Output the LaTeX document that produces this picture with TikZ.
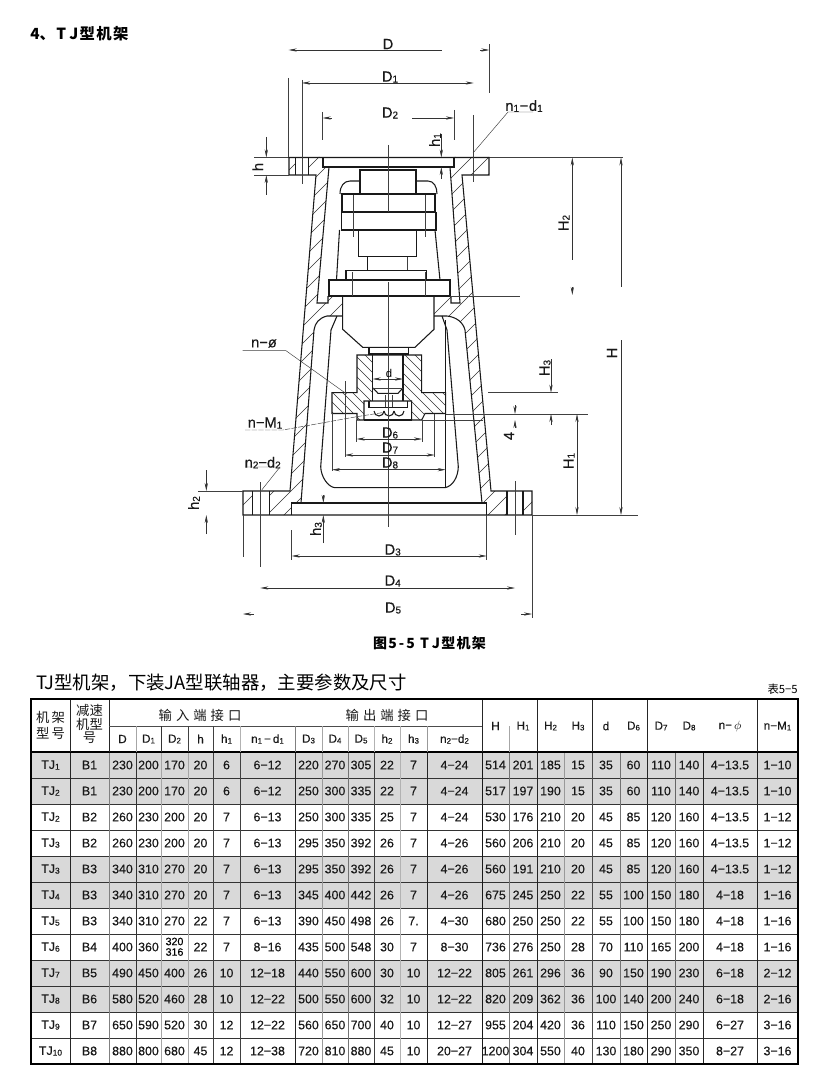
\documentclass[tikz,border=0pt]{standalone}
\usepackage{fontspec}
\setmainfont{Liberation Sans}
\newfontfamily\cjk{Noto Sans CJK SC}
\newfontfamily\numf[FakeBold=0.25]{Liberation Sans}
\usetikzlibrary{arrows.meta}
\newcommand\lo[1]{\raisebox{-.12ex}{\scalebox{.68}{#1}}}
\newcommand\hatchF[2][15]{\begin{scope}\clip #2;\foreach \k in {0,#1,...,1200}{\draw[hatchln] (\k,0) -- ++(-1000,1000);}\end{scope}}
\newcommand\hatchB[2][10]{\begin{scope}\clip #2;\foreach \k in {0,#1,...,1800}{\draw[hatchln] (\k-900,0) -- ++(1000,1000);}\end{scope}}
\def\cx{{50.5,89.5,122.5,148.5,174.5,200.5,226.5,267.5,308.5,335,361,387,413.5,454.5,495.5,523,550.5,578,606,633.5,661,689,730,777.5}}
\newcommand\tjrow[2]{\foreach \t [count=\i from 0] in {#2}{\pgfmathsetmacro\xx{\cx[\i]}\node[cell] (r#1c\i) at (\xx,#1) {\t};}}
\tikzset{
  outl/.style={draw=black!90,line width=.8pt,line join=miter},
  thinl/.style={draw=black!75,line width=.35pt},
  dimln/.style={draw=black!80,line width=.4pt},
  hatchln/.style={draw=black!80,line width=.4pt},
  lbl/.style={font=\fontsize{11}{12}\selectfont\numf,inner sep=0pt,text=black!90},
  cell/.style={font=\fontsize{9.3}{10}\selectfont\numf,inner sep=0pt,text=black!90},
  hcell/.style={font=\fontsize{8.8}{9}\selectfont\numf,inner sep=0pt,text=black!90},
  cn/.style={font=\fontsize{10}{11}\selectfont\cjk,inner sep=0pt,text=black!90},
  >={Stealth[length=6pt,width=2.4pt]}
}
\begin{document}
\begin{tikzpicture}[x=.75pt,y=-.75pt]
\useasboundingbox (0,0) rectangle (830,1091);
\fill[white] (0,0) rectangle (830,1091);

% ---------- titles
\node[anchor=west,inner sep=0pt,font=\fontsize{11.5}{13}\selectfont\cjk\bfseries] (maintitle) at (30,34) {4、\hspace{1pt}T\hspace{2.5pt}J\hspace{1pt}型\hspace{1pt}机\hspace{1pt}架};
\node[inner sep=0pt,font=\fontsize{10.5}{12}\selectfont\cjk\bfseries] (figcap) at (429.5,643) {图\hspace{1pt}5\hspace{1.5pt}-\hspace{1.5pt}5\hspace{4pt}T\hspace{2pt}J\hspace{1pt}型\hspace{1pt}机\hspace{1pt}架};
\node[anchor=west,inner sep=0pt,font=\fontsize{13.8}{15}\selectfont\cjk] (tabtitle) at (36,683) {TJ型机架，下装JA型联轴器，主要参数及尺寸};
\node[anchor=east,inner sep=0pt,font=\fontsize{8.5}{9}\selectfont\cjk] (tabno) at (798,689) {表5−5};

% ---------- hatching
\def\rightwall{(489,157) -- (454,157) -- (454,167) -- (450,167) -- (460,303) -- (451,303) -- (451,296) -- (434,296) -- (434,316) -- (447,316) .. controls (456,317) and (463,322) .. (465,330) -- (482,503) -- (486.7,503) -- (486.7,515) -- (507,515) -- (507,491) -- (491,491) -- (462,175) -- (489,175) -- cycle}
\hatchF[17]{(289,157) -- (295.7,157) -- (295.7,175) -- (289,175) -- cycle}
\hatchF[17]{(308.3,157) -- (323,157) -- (323,167) -- (329,167) -- (317,303) -- (328,303) -- (328,296) -- (342,296) -- (342,316) -- (327,316) .. controls (319,318) and (315,323) .. (314,330) -- (301,503) -- (291.7,503) -- (291.7,515) -- (269.3,515) -- (269.3,491) -- (290,491) -- (316,175) -- (308.3,175) -- cycle}
\hatchF[17]{\rightwall}
\hatchF[22]{(243,491) -- (252.7,491) -- (252.7,515) -- (243,515) -- cycle}
\hatchF[22]{(523,491) -- (532,491) -- (532,515) -- (523,515) -- cycle}
\hatchB[10]{(357,355) -- (372.7,355) -- (372.7,401) -- (364,401) -- (364,420) -- (357,420) -- (357,413) -- (332,413) -- (332,392.7) -- (357,392.7) -- cycle}
\hatchB[10]{(403,355) -- (421.7,355) -- (421.7,392.7) -- (445.7,392.7) -- (445.7,413) -- (425,414) -- (421.7,420) -- (411.7,420) -- (411.7,401) -- (403,401) -- cycle}

% ---------- frame outline
\draw[thinl] (254,157.5) -- (623,157.5);
\draw[outl] (323,157.5) -- (323,167) -- (454,167) -- (454,157.5);
\draw[outl] (289,157.5) -- (489,157.5) -- (489,175) -- (462,175) -- (491,491) -- (532,491) -- (532,515) -- (243,515) -- (243,491) -- (290,491) -- (316,175) -- (289,175) -- cycle;
\draw[outl] (295.7,157.5) -- (295.7,175) (308.3,157.5) -- (308.3,175);
\draw[outl] (252.7,491) -- (252.7,515) (269.3,491) -- (269.3,515);
\draw[outl] (507,491) -- (507,515) (523,491) -- (523,515);
\draw[outl] (329,167) -- (317,303) -- (328,303) -- (328,296);
\draw[outl] (450,167) -- (460,303) -- (451,303) -- (451,296);
\draw[outl] (342.7,316) -- (327,316) .. controls (319,318) and (315,323) .. (314,330) -- (301,503);
\draw[outl] (434,316) -- (447,316) .. controls (456,317) and (463,322) .. (465,330) -- (482,503);
\draw[outl] (291.7,515) -- (291.7,503) -- (486.7,503) -- (486.7,515);

% ---------- upper coupling
\draw[outl] (360,170) rectangle (416,194);
\draw[outl] (340,194) .. controls (340,186) and (344,181) .. (350,181) -- (360,181);
\draw[outl] (416,181) -- (428,181) .. controls (434,181) and (437,187) .. (437,194);
\draw[outl] (342,194) rectangle (435,212);
\draw[outl,line width=1.3pt] (342,212.5) -- (435,212.5);
\draw[outl] (341.7,212.5) rectangle (436,230);
\draw[outl] (358.3,230) rectangle (416.7,256.7);
\draw[outl] (367.3,256.7) -- (367.3,270.7);
\draw[thinl] (407.3,256.7) -- (407.3,270.7);
\draw[outl] (346,270.7) rectangle (426.7,280);
\draw[outl] (329,280) rectangle (450,296);
\draw[outl] (342.7,296) -- (342.7,329.3) -- (362.7,347.3) -- (415,347.3) -- (434,329.3) -- (434,296);
\draw[outl] (369,347.3) rectangle (408.3,354);
\draw[outl] (339.5,230) -- (336.5,280);
\draw[outl] (435,230) -- (440,280);
\draw[thinl] (353,195) -- (353,237) (425,195) -- (425,237);
\draw[thinl] (352,272) -- (352,296) (425,272) -- (425,296);

% ---------- inner U
\draw[outl] (337,316) -- (331,330) -- (320.7,466.7) .. controls (321,477) and (328,487) .. (335,487.7) -- (445,487.7) .. controls (453,486) and (458,477) .. (458.3,466.7) -- (447,330) -- (442,316);
\draw[outl] (445.7,320) -- (445.7,487.7);

% ---------- hub
\draw[outl] (357,355) -- (421.7,355) -- (421.7,392.7) -- (445.7,392.7) -- (445.7,413.5) -- (425,413.5) -- (421.7,420) -- (411.7,420) -- (411.7,401) -- (364,401) -- (364,420) -- (357,420) -- (357,413.5) -- (332,413.5) -- (332,392.7) -- (357,392.7) -- cycle;
\draw[outl] (372.7,355) -- (372.7,401) (403,355) -- (403,401);
\draw[outl] (373,388) -- (378,393.3) -- (398,393.3) -- (403,388);
\draw[thinl] (373,388) -- (403,388);
\draw[outl] (369,401) -- (369,407.3) -- (407.3,407.3) -- (407.3,401);
\draw[thinl] (385,395) -- (385,407) (392,395) -- (392,407);
\draw[outl] (364,420) -- (411.7,420);
\draw[outl] (374,411) arc[start angle=180,end angle=0,radius=5];
\draw[outl] (384,411) arc[start angle=180,end angle=0,radius=5];
\draw[outl] (394,411) arc[start angle=180,end angle=0,radius=5];

% ---------- centre lines
\draw[thinl] (388,145) -- (388,212) (388.5,282) -- (388.5,527);
\draw[thinl] (302,80) -- (302,184) (473.7,115) -- (473.7,182);
\draw[thinl] (260.3,482) -- (260.3,567) (515,481) -- (515,535);

% ---------- dimensions: top
\draw[thinl] (288.7,78) -- (288.7,157) (489.3,44) -- (489.3,93);
\draw[dimln,<-] (288.7,50) -- (442,50);
\draw[dimln,->] (480,50) -- (489.3,50);
\node[lbl] (lD) at (388,44) {D};
\draw[dimln,<->] (302,83) -- (473.7,83);
\node[lbl] (lD1) at (390,77) {D\lo{1}};
\draw[thinl] (322.7,112) -- (322.7,140) (454,110) -- (454,140);
\draw[dimln,<-] (322.7,118) -- (332,118);
\draw[dimln,->] (412,118) -- (454,118);
\node[lbl] (lD2) at (390,113) {D\lo{2}};
\draw[dimln,->] (441.3,134) -- (441.3,157.5);
\draw[dimln,->] (441.3,179) -- (441.3,167);
\node[lbl,rotate=90] (lh1) at (435,140) {h\lo{1}};
\draw[thinl] (254,175) -- (289,175);
\draw[dimln,->] (266.3,137) -- (266.3,157.5);
\draw[dimln,->] (266.3,195) -- (266.3,175);
\node[lbl,rotate=90] (lh) at (257.7,167) {h};
\node[lbl] (ln1) at (524,106) {n\lo{1}\hspace{.5pt}−\hspace{.5pt}d\lo{1}};
\draw[thinl] (533,112) -- (508,112) -- (473,153);
% right side heights
\draw[dimln,<-] (572.3,157.5) -- (572.3,260);
\draw[dimln,->] (572.3,287) -- (572.3,295);
\node[lbl,rotate=90] (lH2) at (564,223) {H\lo{2}};
\draw[thinl] (450,296) -- (520,296);
\draw[dimln,<-] (621,157.5) -- (621,287);
\draw[dimln,->] (621,340) -- (621,515);
\node[lbl,rotate=90] (lH) at (612,353) {H};
\draw[thinl] (532,515) -- (638,515);
\draw[thinl] (445.7,414) -- (588,414) (421.7,420) -- (483,420) (488,392.7) -- (558,392.7);
\draw[dimln,->] (551,359) -- (551,392.7);
\draw[dimln,->] (551,425) -- (551,414);
\node[lbl,rotate=90] (lH3) at (545,368) {H\lo{3}};
\draw[dimln,->] (515,405) -- (515,414);
\draw[dimln,->] (515,428) -- (515,420);
\node[lbl,rotate=90] (l4) at (509,436) {4};
\draw[dimln,<->] (577,414) -- (577,515);
\node[lbl,rotate=90] (lH1) at (569,461) {H\lo{1}};
% left side
\draw[thinl] (198,491) -- (243,491);
\draw[dimln,->] (206.3,470) -- (206.3,491);
\draw[dimln,->] (206.3,534) -- (206.3,515);
\node[lbl,rotate=90] (lh2) at (194,503) {h\lo{2}};
\draw[dimln,->] (323.3,495) -- (323.3,503);
\draw[dimln,->] (323.3,543) -- (323.3,515);
\node[lbl,rotate=90] (lh3) at (316,529) {h\lo{3}};
% bottom widths
\draw[thinl] (291.7,530) -- (291.7,560) (486.7,515) -- (486.7,560);
\draw[dimln,<->] (291.7,556) -- (486.7,556);
\node[lbl] (lD3) at (392.7,550) {D\lo{3}};
\draw[dimln,<->] (260.3,588) -- (515,588);
\node[lbl] (lD4) at (392.7,581) {D\lo{4}};
\draw[thinl] (243,515) -- (243,557) (532,515) -- (532,618);
\draw[dimln,<-] (243,614) -- (254,614);
\draw[dimln,->] (521,614) -- (532,614);
\node[lbl] (lD5) at (393,608) {D\lo{5}};
% inner widths
\draw[thinl] (356.7,420) -- (356.7,442) (422,420) -- (422,442);
\draw[dimln,<->] (356.7,439) -- (422,439);
\node[lbl] (lD6) at (390,433) {D\lo{6}};
\draw[thinl] (345,381) -- (345,457) (434.7,414) -- (434.7,457);
\draw[dimln,<->] (345,455) -- (434.7,455);
\node[lbl] (lD7) at (390,448) {D\lo{7}};
\draw[thinl] (332,413) -- (332,471);
\draw[dimln,<->] (332,469.7) -- (445.7,469.7);
\node[lbl] (lD8) at (390,463) {D\lo{8}};
\draw[dimln,<->] (372.7,379) -- (403,379);
\node[font=\fontsize{8.5}{9}\selectfont,inner sep=0pt] (ld) at (389,373) {d};
% leaders
\node[lbl] (lnphi) at (264,343.5) {n−ø};
\draw[thinl] (242.7,350.7) -- (286,350.7) -- (346.7,394);
\node[lbl] (lnM) at (265,423) {n−M\lo{1}};
\draw[thinl,dash pattern=on 4pt off 1pt] (245,430) -- (283,430) -- (356.7,416.7) -- (382,412.7);
\node[lbl] (ln2) at (262.7,462.7) {n\lo{2}−d\lo{2}};
\draw[thinl] (245,467) -- (280,467) -- (261.7,490);

% ---------- table shading
\foreach \a/\b in {752/804,856/908,960/1012}{
  \fill[black!15] (31,\a) rectangle (798,\b);
}

% ---------- table rules
\foreach \yy in {778,804,830,856,882,908,934,960,986,1012,1038}{
  \draw[draw=black!80,line width=.6pt] (31,\yy) -- (798,\yy);
}
\foreach \xc/\sh in {70/85,109/50,136/80,161/35,188/35,213/75,240/75,295/85,322/40,348/55,374/75,400/30,427/85,482/90,509/55,537/85,564/40,592/70,620/55,647/85,675/60,703/85,757/85}{
  \draw[draw=black!\sh,line width=.6pt] (\xc,752) -- (\xc,1064);
}
\draw[draw=black,line width=1pt] (31,752) -- (798,752);
\draw[draw=black!85,line width=.6pt] (70,699) -- (70,752) (109,699) -- (109,752) (482,699) -- (482,752) (537,699) -- (537,752) (592,699) -- (592,752) (647,699) -- (647,752) (757,699) -- (757,752);
\draw[draw=black!70,line width=.6pt] (109,726) -- (482,726);
\foreach \xc/\sh in {136/35,161/80,188/75,213/75,240/30,295/50,322/35,348/35,374/30,400/30,427/40,509/35}{
  \draw[draw=black!\sh,line width=.5pt] (\xc,726) -- (\xc,752);
}
\draw[draw=black,line width=1.1pt] (31,699) rectangle (798,1064);

% ---------- table header
\node[cn] (h1a) at (50.5,717) {机\,架};
\node[cn] (h1b) at (50.5,733) {型\,号};
\node[cn] (h2a) at (89.5,710) {减速};
\node[cn] (h2b) at (89.5,724) {机型};
\node[cn] (h2c) at (89.5,738) {号};
\node[cn] (hin) at (200,715) {输\hspace{3pt}入\hspace{3pt}端\hspace{3pt}接\hspace{3pt}口};
\node[cn] (hout) at (387,715) {输\hspace{3pt}出\hspace{3pt}端\hspace{3pt}接\hspace{3pt}口};
\foreach \t/\xc/\nm in {D/122.5/a,D\lo{1}/148.5/b,D\lo{2}/174.5/c,h/200.5/d,h\lo{1}/226.5/e,n\lo{1}\,−\,d\lo{1}/267.5/f,D\lo{3}/308.5/g,D\lo{4}/335/h,D\lo{5}/361/i,h\lo{2}/387/j,h\lo{3}/413.5/k,n\lo{2}−d\lo{2}/454.5/l}{
  \node[hcell] (sub\nm) at (\xc,739) {\t};
}
\foreach \t/\xc/\nm in {H/495.5/a,H\lo{1}/523/b,H\lo{2}/550.5/c,H\lo{3}/578/d,d/606/e,D\lo{6}/633.5/f,D\lo{7}/661/g,D\lo{8}/689/h,n−\,$\phi$/730/i,n−M\lo{1}/777.5/j}{
  \node[hcell] (top\nm) at (\xc,726) {\t};
}

% ---------- table body
\tjrow{765}{TJ\lo{1},B1,230,200,170,20,6,6−12,220,270,305,22,7,4−24,514,201,185,15,35,60,110,140,4−13.5,1−10}
\tjrow{791}{TJ\lo{2},B1,230,200,170,20,6,6−12,250,300,335,22,7,4−24,517,197,190,15,35,60,110,140,4−13.5,1−10}
\tjrow{817}{TJ\lo{2},B2,260,230,200,20,7,6−13,250,300,335,25,7,4−24,530,176,210,20,45,85,120,160,4−13.5,1−12}
\tjrow{843}{TJ\lo{3},B2,260,230,200,20,7,6−13,295,350,392,26,7,4−26,560,206,210,20,45,85,120,160,4−13.5,1−12}
\tjrow{869}{TJ\lo{3},B3,340,310,270,20,7,6−13,295,350,392,26,7,4−26,560,191,210,20,45,85,120,160,4−13.5,1−12}
\tjrow{895}{TJ\lo{4},B3,340,310,270,20,7,6−13,345,400,442,26,7,4−26,675,245,250,22,55,100,150,180,4−18,1−16}
\tjrow{921}{TJ\lo{5},B3,340,310,270,22,7,6−13,390,450,498,26,7.,4−30,680,250,250,22,55,100,150,180,4−18,1−16}
\tjrow{947}{TJ\lo{6},B4,400,360,,22,7,8−16,435,500,548,30,7,8−30,736,276,250,28,70,110,165,200,4−18,1−16}
\node[font=\fontsize{8}{8}\selectfont\numf,inner sep=0pt] (v320) at (174.5,941.5) {320};
\node[font=\fontsize{8}{8}\selectfont\numf,inner sep=0pt] (v316) at (174.5,952) {316};
\tjrow{973}{TJ\lo{7},B5,490,450,400,26,10,12−18,440,550,600,30,10,12−22,805,261,296,36,90,150,190,230,6−18,2−12}
\tjrow{999}{TJ\lo{8},B6,580,520,460,28,10,12−22,500,550,600,32,10,12−22,820,209,362,36,100,140,200,240,6−18,2−16}
\tjrow{1025}{TJ\lo{9},B7,650,590,520,30,12,12−22,560,650,700,40,10,12−27,955,204,420,36,110,150,250,290,6−27,3−16}
\tjrow{1051}{TJ\lo{10},B8,880,800,680,45,12,12−38,720,810,880,45,10,20−27,1200,304,550,40,130,180,290,350,8−27,3−16}
\end{tikzpicture}
\end{document}
